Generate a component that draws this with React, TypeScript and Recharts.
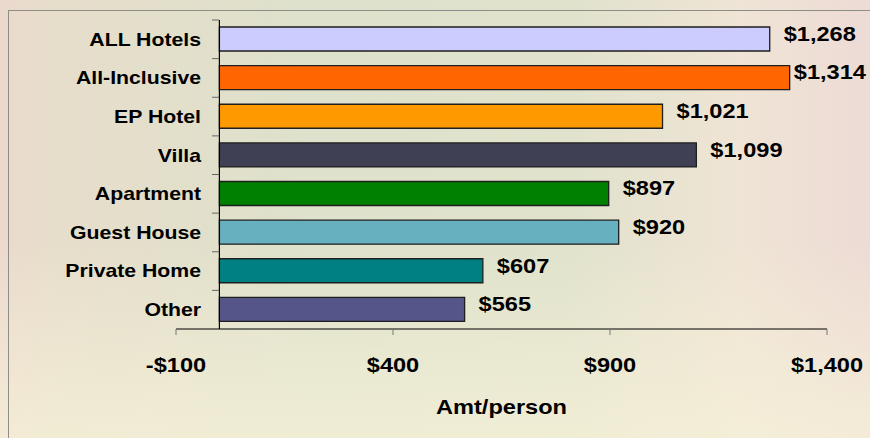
import React from 'react'
import { BarChart, Bar, XAxis, YAxis, Cell, LabelList, ReferenceLine } from 'recharts'

const categories = ['ALL Hotels', 'All-Inclusive', 'EP Hotel', 'Villa', 'Apartment', 'Guest House', 'Private Home', 'Other']
const amounts = [1268, 1314, 1021, 1099, 897, 920, 607, 565]
const barColors = ['#ccccff', '#ff6600', '#ff9900', '#404055', '#008000', '#66b0c0', '#008080', '#55558a']
const xTicks = [-100, 400, 900, 1400]

const W = 870
const H = 438
const YAXIS_W = 20
const MARGIN = { top: 20, right: 43, left: 176 - YAXIS_W, bottom: 9 }
const XAXIS_H = 100
const BAND = (H - MARGIN.top - MARGIN.bottom - XAXIS_H) / categories.length
const FONT = '"Liberation Sans", Arial, Helvetica, sans-serif'
const STRETCH = 1.18

const data = categories.map((name, i) => ({ name, amt: amounts[i] }))

const money = (v: number) => (v < 0 ? '-$' : '$') + Math.abs(v).toLocaleString('en-US')

function Wide({ x, y, size, anchor, children }: any) {
  return (
    <text
      transform={`translate(${x},${y}) scale(${STRETCH},1)`}
      textAnchor={anchor}
      dominantBaseline="central"
      fontFamily={FONT}
      fontWeight="bold"
      fontSize={size}
      fill="#000"
    >
      {children}
    </text>
  )
}

// plot left edge is 176; x passed here is the axis' right edge
function YTick(props: any) {
  const { x, y, payload } = props
  const ty = y - BAND / 2
  return (
    <g>
      <path d={`M${x + 36},${ty}H${x + 43}`} stroke="#666" strokeWidth={1} fill="none" />
      <Wide x={x + 25} y={y} size={18} anchor="end">{payload.value}</Wide>
    </g>
  )
}

function XTick(props: any) {
  const { x, y, payload } = props
  return <Wide x={x} y={y + 30} size={20} anchor="middle">{money(payload.value)}</Wide>
}

function ValueLabel(props: any) {
  const { x, y, width, height, value } = props
  const txt = money(value)
  const est = txt.length * 0.51 * 20 * STRETCH
  let lx = x + width + 14
  if (lx + est > W - 4) lx = W - 4 - est
  return <Wide x={lx} y={y + height / 2 - 5} size={20} anchor="start">{txt}</Wide>
}

function AxisTitle(props: any) {
  const vb = props.viewBox || {}
  return <Wide x={vb.x + vb.width / 2} y={vb.y + 78} size={20} anchor="middle">Amt/person</Wide>
}

export default function App() {
  return (
    <div
      style={{
        position: 'absolute',
        left: 0,
        top: 0,
        width: W,
        height: H,
        overflow: 'hidden',
        background:
          'linear-gradient(to top, rgba(246,241,216,0.75) 0%, rgba(246,241,216,0) 45%), linear-gradient(to right, #ecd9cd 0%, #e7ddcb 5%, #dee1cb 35%, #e0e2cc 65%, #efe4d5 85%, #eddbd5 100%)',
      }}
    >
      <div
        style={{
          position: 'absolute',
          left: 8,
          top: 10,
          width: W,
          height: H,
          boxSizing: 'border-box',
          borderTop: '1px solid #8e8e88',
          borderLeft: '1px solid #8e8e88',
        }}
      />
      <div style={{ position: 'absolute', left: 0, top: 0 }}>
        <BarChart width={W} height={H} data={data} layout="vertical" margin={MARGIN} barCategoryGap="19%">
          <XAxis
            type="number"
            domain={[-100, 1400]}
            ticks={xTicks}
            interval={0}
            height={XAXIS_H}
            axisLine={{ stroke: '#000', strokeWidth: 1.2 }}
            tickLine={{ stroke: '#777' }}
            tickSize={6}
            tickMargin={0}
            tick={<XTick />}
            label={{ content: <AxisTitle /> }}
            allowDataOverflow
          />
          <YAxis
            type="category"
            dataKey="name"
            width={YAXIS_W}
            axisLine={false}
            tickLine={false}
            tickSize={0}
            tickMargin={0}
            interval={0}
            tick={<YTick />}
          />
          <ReferenceLine x={0} stroke="#000" strokeWidth={1.2} />
          <Bar dataKey="amt" barSize={24} stroke="#1e1e1e" strokeWidth={1.3} isAnimationActive={false}>
            {data.map((d, i) => (
              <Cell key={d.name} fill={barColors[i]} />
            ))}
            <LabelList dataKey="amt" content={<ValueLabel />} />
          </Bar>
        </BarChart>
      </div>
    </div>
  )
}
